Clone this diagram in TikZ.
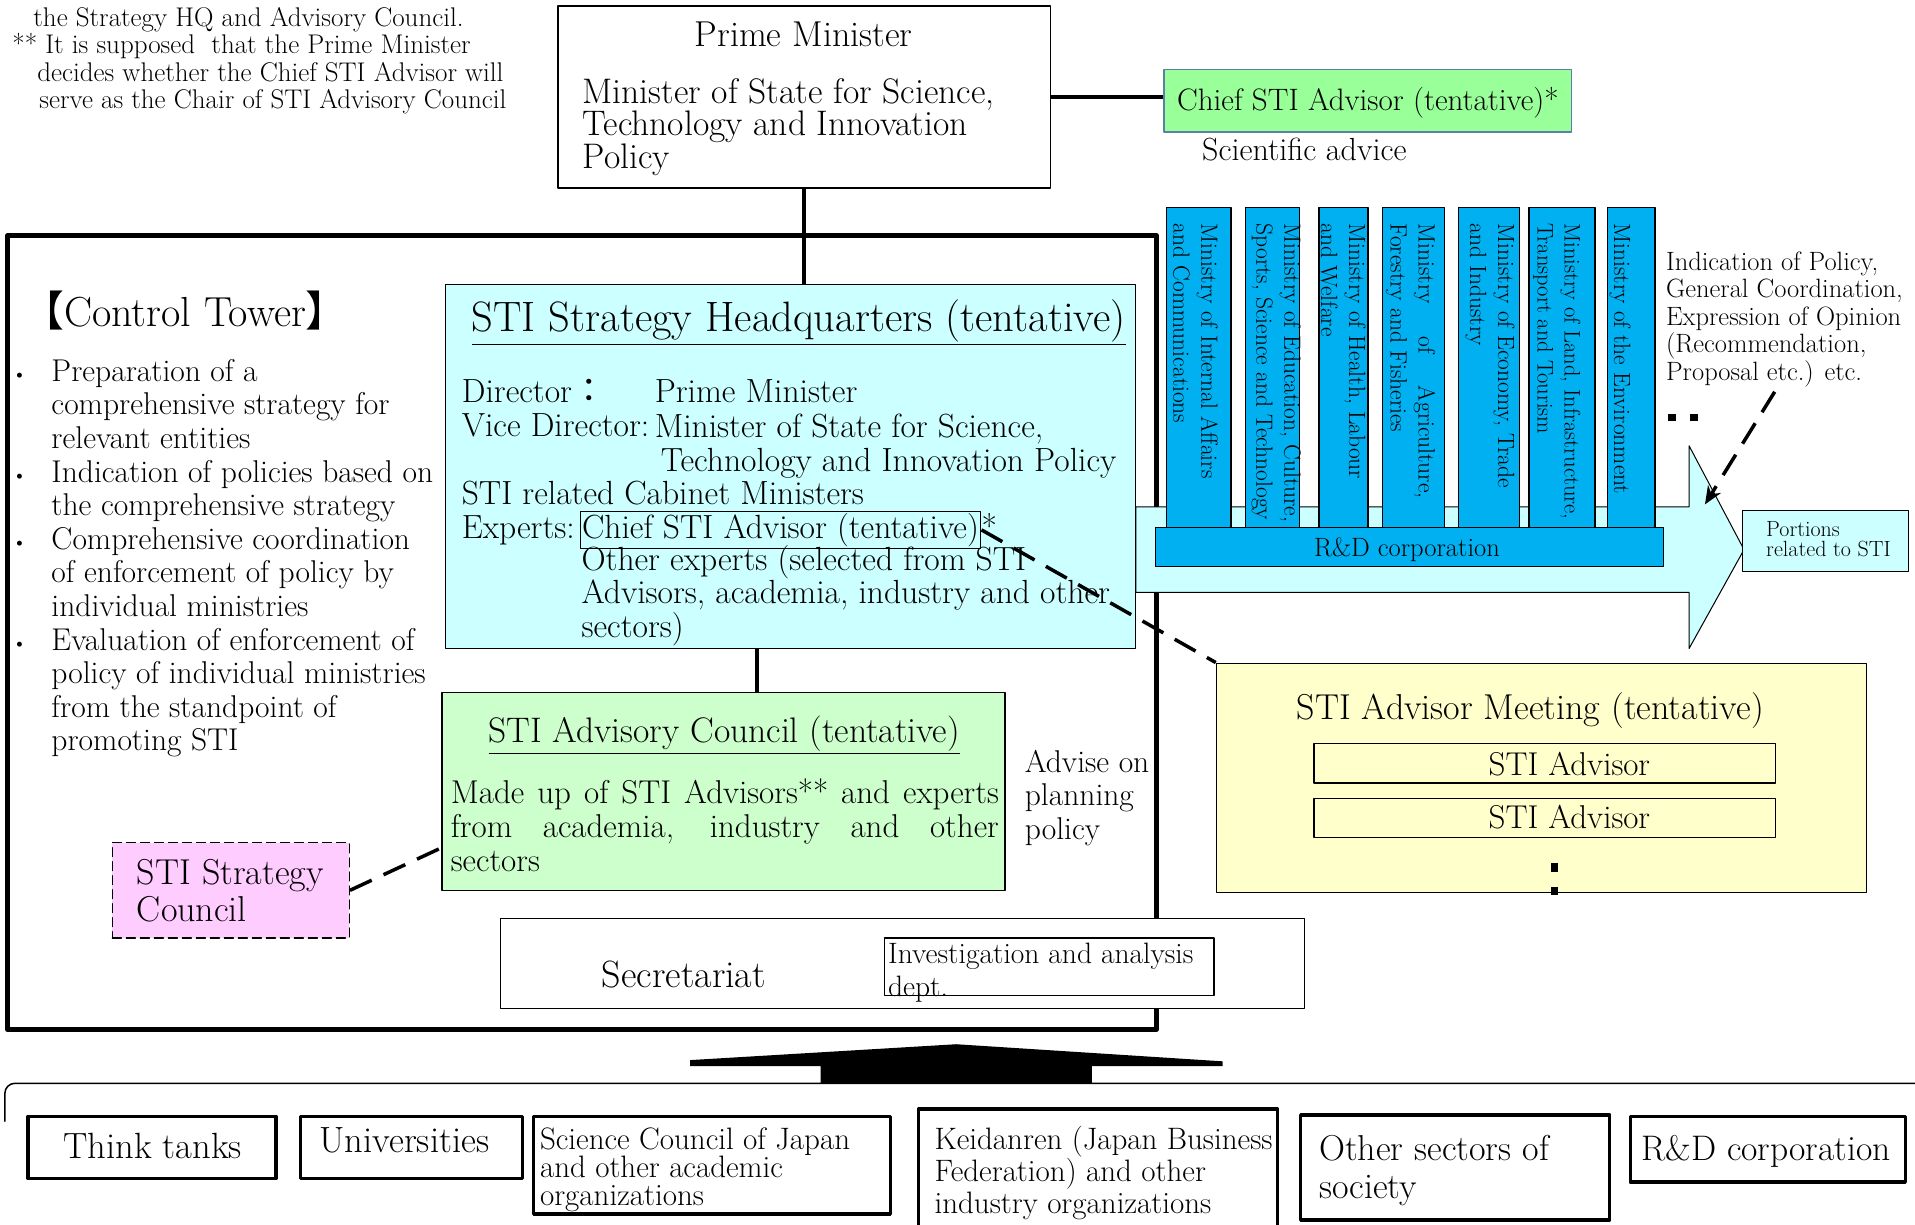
\documentclass[tikz,border=0pt]{standalone}
\usepackage{fontspec}
\usepackage{tikz}
\usetikzlibrary{fit,calc,arrows.meta}

\newfontfamily\cjkfont{Noto Sans CJK JP}

\definecolor{hqcyan}{HTML}{CCFFFF}
\definecolor{councilgreen}{HTML}{CCFFCC}
\definecolor{chiefgreen}{HTML}{99FF99}
\definecolor{chiefedge}{HTML}{5B7FA8}
\definecolor{stratpink}{HTML}{FFCCFF}
\definecolor{meetyellow}{HTML}{FFFFCC}
\definecolor{minblue}{HTML}{00B0F0}

\newcommand{\fsz}[2]{\fontsize{#1}{#2}\selectfont}

\begin{document}
\begin{tikzpicture}[
    x=1.2213pt, y=-1.2213pt,
    >={Stealth[length=18pt, width=15pt]},
    line cap=round,
    line join=round,
    box/.style={draw, inner sep=0pt, line width=1.3pt},
    thickbox/.style={draw, inner sep=0pt, line width=3.5pt},
    ministry/.style={box, fill=minblue},
    lbl/.style={inner sep=0pt, anchor=base},
    lblw/.style={inner sep=0pt, anchor=base west, align=left},
    coltext/.style={lblw, rotate=-90, font=\fsz{23.5}{28}},
    link/.style={line width=3.5pt, line cap=butt},
    dashlink/.style={line width=3.5pt, line cap=butt, dash pattern=on 24pt off 13pt}
]

\useasboundingbox (0,0) rectangle (1568,1003);

%------------------------------------------------
% Footnote at the top left (anchored at its last line)
%------------------------------------------------
\node[lblw, font=\fsz{27}{27.5}] (footnote) at (10,89) {%
    \hspace*{21pt}the Strategy HQ and Advisory Council.\\
    ** It is supposed\ \ that the Prime Minister\\
    \hspace*{25pt}decides whether the Chief STI Advisor will\\
    \hspace*{27pt}serve as the Chair of STI Advisory Council};

%------------------------------------------------
% Prime Minister and Chief STI Advisor
%------------------------------------------------
\node[box, fit={(457,5) (860,154)}] (pm) {};
\node[lbl, font=\fsz{36}{36}] (pmtitle) at (658,38.3) {Prime Minister};
\node[lblw, font=\fsz{35.5}{30.5}] (pmminister) at (477,138) {%
    Minister of State for Science,\\
    Technology and Innovation\\
    Policy};

\node[box, draw=chiefedge, fill=chiefgreen, fit={(953,57) (1287,108)}] (chief) {};
\node[lbl, font=\fsz{31}{32}] (chieftxt) at (1120,90.1) {Chief STI Advisor (tentative)*};
\node[lbl, font=\fsz{32}{32}] (advice) at (1068,131.3) {Scientific advice};

\draw[link] ($(chief.west -| pm.east)+(0,-3)$) -- ($(chief.west)+(0,-3)$);

%------------------------------------------------
% Control tower frame
%------------------------------------------------
\node[draw, inner sep=0pt, line width=4.5pt, fit={(6,193) (947,843)}] (tower) {};

%------------------------------------------------
% Big cyan arrow towards the ministries
%------------------------------------------------
\draw[line width=1pt, fill=hqcyan]
    (930,415) -- (1383,415) -- (1383,365) -- (1428,450)
    -- (1383,531) -- (1383,485) -- (930,485) -- cycle;
\coordinate (headin) at (1396,413);

%------------------------------------------------
% Ministries and R&D corporation
%------------------------------------------------
\foreach \n/\l/\r in {1/955/1008, 2/1020/1064, 3/1080/1120, 4/1132/1183,
                      5/1194/1244, 6/1252/1306, 7/1316/1355}
    \node[ministry, fit={(\l,170) (\r,432)}] (min\n) {};

% rotated texts, anchored at the baseline of their last line
\node[coltext] (mintxt1) at (960.7,183) {Ministry of Internal Affairs\\and Communications};
\node[coltext] (mintxt2) at (1028.7,183) {Ministry of Education, Culture,\\Sports, Science and Technology};
\node[coltext] (mintxt3) at (1081.7,183) {Ministry of Health, Labour\\and Welfare};
\node[coltext] (mintxt4) at (1138.7,183) {\makebox[275pt][s]{Ministry of Agriculture,}\\Forestry and Fisheries};
\node[coltext] (mintxt5) at (1203.7,183) {Ministry of Economy, Trade\\and Industry};
\node[coltext, font=\fsz{22.5}{27}] (mintxt6) at (1259,183) {Ministry of Land, Infrastructure,\\Transport and Tourism};
\node[coltext] (mintxt7) at (1321.6,183) {Ministry of the Environment};

\node[ministry, fit={(946,432) (1362,464)}] (rdbar) {};
\node[lbl, font=\fsz{26.5}{28}] (rdbartxt) at (1152,456) {R\&D corporation};

\node[box, line width=1pt, fill=hqcyan, fit={(1427,418) (1563,468)}] (portions) {};
\node[lblw, font=\fsz{22}{20.5}] (portionstxt) at (1446,455.8) {Portions\\related to STI};

\node[lblw, font=\fsz{26.5}{27.5}] (policy) at (1364,311.2) {%
    Indication of Policy,\\
    General Coordination,\\
    Expression of Opinion\\
    (Recommendation,\\
    Proposal etc.) etc.};
\fill (1366,339) rectangle (1372,345);
\fill (1384,339) rectangle (1390,345);

%------------------------------------------------
% STI Strategy Headquarters
%------------------------------------------------
\node[box, fill=hqcyan, fit={(365,233) (930,531)}] (hq) {};
\node[lbl, font=\fsz{42.5}{44}] (hqtitle) at (654,271.7) {\underline{STI Strategy Headquarters (tentative)}};

\node[lblw, font=\fsz{33.5}{33.7}] (dirlbl) at (378,329.7) {Director{\cjkfont ：}};
\node[lblw, font=\fsz{33.5}{33.7}] (dir) at (536,329.7) {Prime Minister};
\node[lblw, font=\fsz{33.5}{33.7}] (vicelbl) at (378,357.7) {Vice Director:};
\node[lblw, font=\fsz{33.5}{33.7}] (vice) at (536,385.7) {Minister of State for Science,\\\hspace*{6pt}Technology and Innovation Policy};
\node[lblw, font=\fsz{33.5}{33.7}] (cabinet) at (378,412.7) {STI related Cabinet Ministers};
\node[lblw, font=\fsz{33.5}{33.7}] (explbl) at (378,440.7) {Experts:};
\node[draw, line width=1.2pt, inner sep=2pt, anchor=base west, font=\fsz{33.5}{33.7}] (chiefin) at (474.5,440.7) {Chief STI Advisor (tentative)};
\node[lblw, font=\fsz{33.5}{33.7}] (star) at (chiefin.base east) {*};
\node[lblw, font=\fsz{33.5}{33.7}] (others) at (476,522) {%
    Other experts (selected from STI\\
    Advisors, academia, industry and other\\
    sectors)};

\draw[link] (pm.south) -- (pm.south |- hq.north);

%------------------------------------------------
% Control tower tasks
%------------------------------------------------
\node[lblw, font=\fsz{42}{44}] (towertitle) at (18,267.6) {{\cjkfont 【}Control Tower{\cjkfont 】}};
\node[lblw, font=\fsz{31.5}{33.6}] (tasks) at (42,614.8) {%
    \llap{\fsz{22}{22}\textbullet\hspace{24pt}}Preparation of a\\
    comprehensive strategy for\\
    relevant entities\\
    \llap{\fsz{22}{22}\textbullet\hspace{24pt}}Indication of policies based on\\
    the comprehensive strategy\\
    \llap{\fsz{22}{22}\textbullet\hspace{24pt}}Comprehensive coordination\\
    of enforcement of policy by\\
    individual ministries\\
    \llap{\fsz{22}{22}\textbullet\hspace{24pt}}Evaluation of enforcement of\\
    policy of individual ministries\\
    from the standpoint of\\
    promoting STI};

%------------------------------------------------
% STI Advisory Council
%------------------------------------------------
\node[box, fill=councilgreen, fit={(362,567) (823,729)}] (council) {};
\node[lbl, font=\fsz{35.5}{36}] (counciltitle) at (593,608.1) {\underline{STI Advisory Council (tentative)}};
\node[lblw, font=\fsz{33}{34.2}] (councilbody) at (369,713.6) {%
    \makebox[548pt][s]{Made up of STI Advisors** and experts}\\
    \makebox[548pt][s]{from academia, industry and other}\\
    sectors};

\coordinate (hqlink) at (620,0);
\draw[link] (hq.south -| hqlink) -- (council.north -| hqlink);

\node[lblw, font=\fsz{31.5}{33.5}] (advise) at (839,687.1) {Advise on\\planning\\policy};

%------------------------------------------------
% STI Strategy Council
%------------------------------------------------
\node[box, dash pattern=on 9pt off 5pt, fill=stratpink, fit={(92,690) (286,768)}] (stratcouncil) {};
\node[lblw, font=\fsz{36}{37}] (stratcounciltxt) at (112,754.5) {STI Strategy\\Council};

\draw[dashlink] (stratcouncil.east) -- ($(council.south west)!0.217!(council.north west)$);

%------------------------------------------------
% STI Advisor Meeting
%------------------------------------------------
\node[box, fill=meetyellow, fit={(996,543) (1528,731)}] (meeting) {};
\node[lbl, font=\fsz{36}{36}] (meetingtitle) at (1253,589.2) {STI Advisor Meeting (tentative)};
\node[box, fit={(1076,609) (1454,641)}] (advisorA) {};
\node[box, fit={(1076,654) (1454,686)}] (advisorB) {};
\node[lbl, font=\fsz{33}{33}] (advisorAtxt) at (1285,634.6) {STI Advisor};
\node[lbl, font=\fsz{33}{33}] (advisorBtxt) at (1285,678.6) {STI Advisor};
\fill (1270,707) rectangle (1276,714);
\fill (1270,726) rectangle (1276,733);

%------------------------------------------------
% Secretariat
%------------------------------------------------
\node[box, fill=white, fit={(410,752) (1068,826)}] (secretariat) {};
\node[lbl, font=\fsz{38}{38}] (secretariattxt) at (560,808.7) {Secretariat};
\node[box, line width=1.2pt, fit={(724,768) (994,815)}] (investigation) {};
\node[lblw, font=\fsz{29.5}{33}] (investigationtxt) at (727,815.8) {Investigation and analysis\\dept.};

%------------------------------------------------
% Dashed links
%------------------------------------------------
\draw[dashlink] (chiefin.east) -- (meeting.north west);
\draw[dashlink, ->] ($(policy.south)+(-8,4)$) -- (headin);

%------------------------------------------------
% Upward arrow and society
%------------------------------------------------
\fill (565,868) -- (783,855) -- (1001,869) -- (1001,873) -- (894,873)
    -- (894,887) -- (672,887) -- (672,873) -- (565,873) -- cycle;
\draw[line width=1.5pt, rounded corners=10pt] (4,918) |- (1572,887);

\node[thickbox, fit={(23,914) (226,965)}] (thinktanks) {};
\node[lbl, font=\fsz{36.5}{36.5}] (thinktankstxt) at (125,948.4) {Think tanks};

\node[thickbox, fit={(246,914) (428,965)}] (universities) {};
\node[lbl, font=\fsz{36.5}{36.5}] (universitiestxt) at (331,943.4) {Universities};

\node[thickbox, fit={(437,914) (729,994)}] (scj) {};
\node[lblw, font=\fsz{31}{28}] (scjtxt) at (442,987) {Science Council of Japan\\and other academic\\organizations};

\node[thickbox, fit={(752,908) (1046,1012)}] (keidanren) {};
\node[lblw, font=\fsz{31}{32}] (keidanrentxt) at (765,993.5) {Keidanren (Japan Business\\Federation) and other\\industry organizations};

\node[thickbox, fit={(1065,913) (1318,999)}] (othersectors) {};
\node[lblw, font=\fsz{36}{38}] (othersectorstxt) at (1080,981.3) {Other sectors of\\society};

\node[thickbox, fit={(1335,914) (1560,968)}] (rdcorp) {};
\node[lbl, font=\fsz{35.5}{36}] (rdcorptxt) at (1446,950.1) {R\&D corporation};

\end{tikzpicture}
\end{document}
